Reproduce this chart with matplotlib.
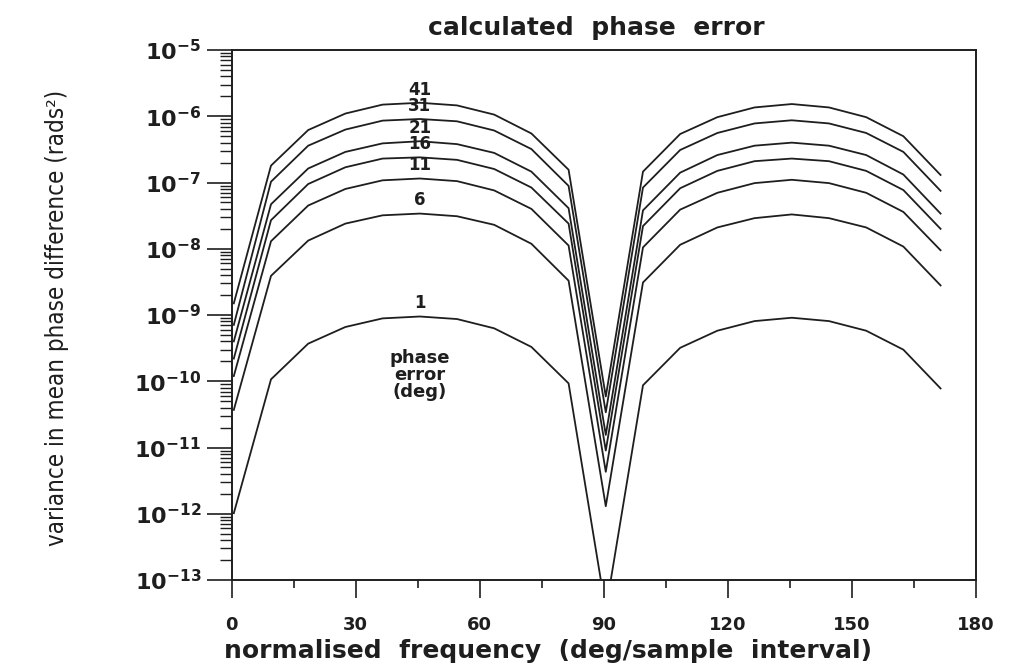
import numpy as np
import matplotlib
matplotlib.use('Agg')
import matplotlib.pyplot as plt
from matplotlib import font_manager
from matplotlib.ticker import LogLocator, MultipleLocator, FuncFormatter, NullFormatter

# normalised frequency (deg/sample interval)
freq = [0.5, 9.5, 18.5, 27.5, 36.5, 45.5, 54.5, 63.5, 72.5, 81.5,
        90.5, 99.5, 108.5, 117.5, 126.5, 135.5, 144.5, 153.5, 162.5, 171.5]

# variance in mean phase difference, one list per phase error (deg)
var_1 = [1.02e-12, 1.07e-10, 3.7e-10, 6.6e-10, 8.9e-10, 9.5e-10, 8.7e-10, 6.3e-10, 3.3e-10, 9.3e-11,
         3.5e-14, 8.7e-11, 3.2e-10, 5.8e-10, 8.1e-10, 9.1e-10, 8.1e-10, 5.8e-10, 3.0e-10, 7.8e-11]
var_6 = [3.7e-11, 3.9e-9, 1.33e-8, 2.4e-8, 3.2e-8, 3.4e-8, 3.1e-8, 2.3e-8, 1.19e-8, 3.3e-9,
         1.3e-12, 3.1e-9, 1.15e-8, 2.1e-8, 2.9e-8, 3.3e-8, 2.9e-8, 2.1e-8, 1.08e-8, 2.8e-9]
var_11 = [1.2e-10, 1.3e-8, 4.5e-8, 8.0e-8, 1.08e-7, 1.15e-7, 1.05e-7, 7.6e-8, 4.0e-8, 1.12e-8,
          4.3e-12, 1.05e-8, 3.9e-8, 7.0e-8, 9.8e-8, 1.1e-7, 9.8e-8, 7.0e-8, 3.6e-8, 9.5e-9]
var_16 = [2.2e-10, 2.7e-8, 9.5e-8, 1.7e-7, 2.3e-7, 2.4e-7, 2.2e-7, 1.6e-7, 8.4e-8, 2.4e-8,
          9.0e-12, 2.2e-8, 8.2e-8, 1.5e-7, 2.1e-7, 2.3e-7, 2.1e-7, 1.5e-7, 7.7e-8, 2.0e-8]
var_21 = [4.0e-10, 4.7e-8, 1.63e-7, 2.9e-7, 3.9e-7, 4.2e-7, 3.8e-7, 2.8e-7, 1.46e-7, 4.1e-8,
          1.55e-11, 3.8e-8, 1.41e-7, 2.6e-7, 3.6e-7, 4.0e-7, 3.6e-7, 2.6e-7, 1.32e-7, 3.4e-8]
var_31 = [7.1e-10, 1.03e-7, 3.6e-7, 6.3e-7, 8.6e-7, 9.1e-7, 8.4e-7, 6.1e-7, 3.2e-7, 8.9e-8,
          3.4e-11, 8.4e-8, 3.1e-7, 5.6e-7, 7.8e-7, 8.7e-7, 7.8e-7, 5.6e-7, 2.9e-7, 7.5e-8]
var_41 = [1.5e-9, 1.8e-7, 6.2e-7, 1.1e-6, 1.5e-6, 1.6e-6, 1.46e-6, 1.06e-6, 5.5e-7, 1.56e-7,
          5.9e-11, 1.46e-7, 5.4e-7, 9.7e-7, 1.36e-6, 1.53e-6, 1.36e-6, 9.7e-7, 5.0e-7, 1.3e-7]

series = [var_1, var_6, var_11, var_16, var_21, var_31, var_41]
curve_labels = ['1', '6', '11', '16', '21', '31', '41']
label_at = 45.5   # frequency where the curve numbers sit

ink = '#1e1e1e'

# the y label in the original is set in a very narrow face; take the narrowest one around
rank = {'ultra-condensed': 0, 'extra-condensed': 1, 'condensed': 2, 'semi-condensed': 3}
narrow = [f for f in font_manager.fontManager.ttflist
          if (f.stretch in rank or 'Narrow' in f.name)
          and f.style == 'normal' and f.weight in (400, 'normal', 'regular')]
narrow.sort(key=lambda f: rank.get(f.stretch, 2))
if narrow:
    ylab_prop = font_manager.FontProperties(fname=narrow[0].fname, size=22)
else:
    ylab_prop = font_manager.FontProperties(family='Liberation Sans', size=18)

fig = plt.figure(figsize=(10.35, 6.68), dpi=100)
ax = fig.add_axes([0.2239, 0.1317, 0.7188, 0.7934])

for vals, lab in zip(series, curve_labels):
    ax.plot(freq, vals, color=ink, lw=1.3)
    i = freq.index(label_at)
    ax.annotate(lab, xy=(label_at, vals[i]), xytext=(0, 3), textcoords='offset points',
                ha='center', va='bottom', fontsize=12, fontweight='bold', color=ink)

ax.text(label_at, 1.24e-10, 'phase\nerror\n(deg)', ha='center', va='center',
        fontsize=13, fontweight='bold', linespacing=0.9, color=ink)

ax.set_yscale('log')
ax.set_xlim(0, 180)
ax.set_ylim(1e-13, 1e-5)

ax.xaxis.set_major_locator(MultipleLocator(30))
ax.xaxis.set_minor_locator(MultipleLocator(15))
ax.yaxis.set_major_locator(LogLocator(base=10, numticks=20))
ax.yaxis.set_minor_locator(LogLocator(base=10, subs=np.arange(2, 10), numticks=20))
ax.yaxis.set_major_formatter(FuncFormatter(lambda v, p: r'$\mathbf{10^{%d}}$' % round(np.log10(v))))
ax.yaxis.set_minor_formatter(NullFormatter())

# tick lengths in points (1 pt = 1.39 px here)
ax.tick_params(axis='x', which='major', direction='out', length=13, width=1.2, pad=13, colors=ink)
ax.tick_params(axis='x', which='minor', direction='out', length=6, width=1.2, colors=ink)
ax.tick_params(axis='y', which='major', direction='out', length=18, width=1.2, pad=4, colors=ink)
ax.tick_params(axis='y', which='minor', direction='out', length=9, width=1.0, colors=ink)
for lab in ax.get_xticklabels():
    lab.set_fontsize(13)
    lab.set_fontweight('bold')
for lab in ax.get_yticklabels():
    lab.set_fontsize(16)
for s in ax.spines.values():
    s.set_linewidth(1.4)
    s.set_color(ink)

fig.text(0.576, 0.9476, 'calculated  phase  error', ha='center', va='baseline',
         fontsize=18, fontweight='bold', color=ink)
fig.text(0.529, 0.015, 'normalised  frequency  (deg/sample  interval)', ha='center', va='baseline',
         fontsize=18, fontweight='bold', color=ink)
ylab = fig.text(0.055, 0.524, 'variance in mean phase difference (rads²)', rotation=90,
                ha='center', va='center', color=ink, fontproperties=ylab_prop)

# shrink the y label so it spans about the same height as in the original (~455 px)
fig.canvas.draw()
h = ylab.get_window_extent().height
ylab.set_fontsize(ylab_prop.get_size() * 455.0 / h)

fig.savefig('out.png', dpi=100)
